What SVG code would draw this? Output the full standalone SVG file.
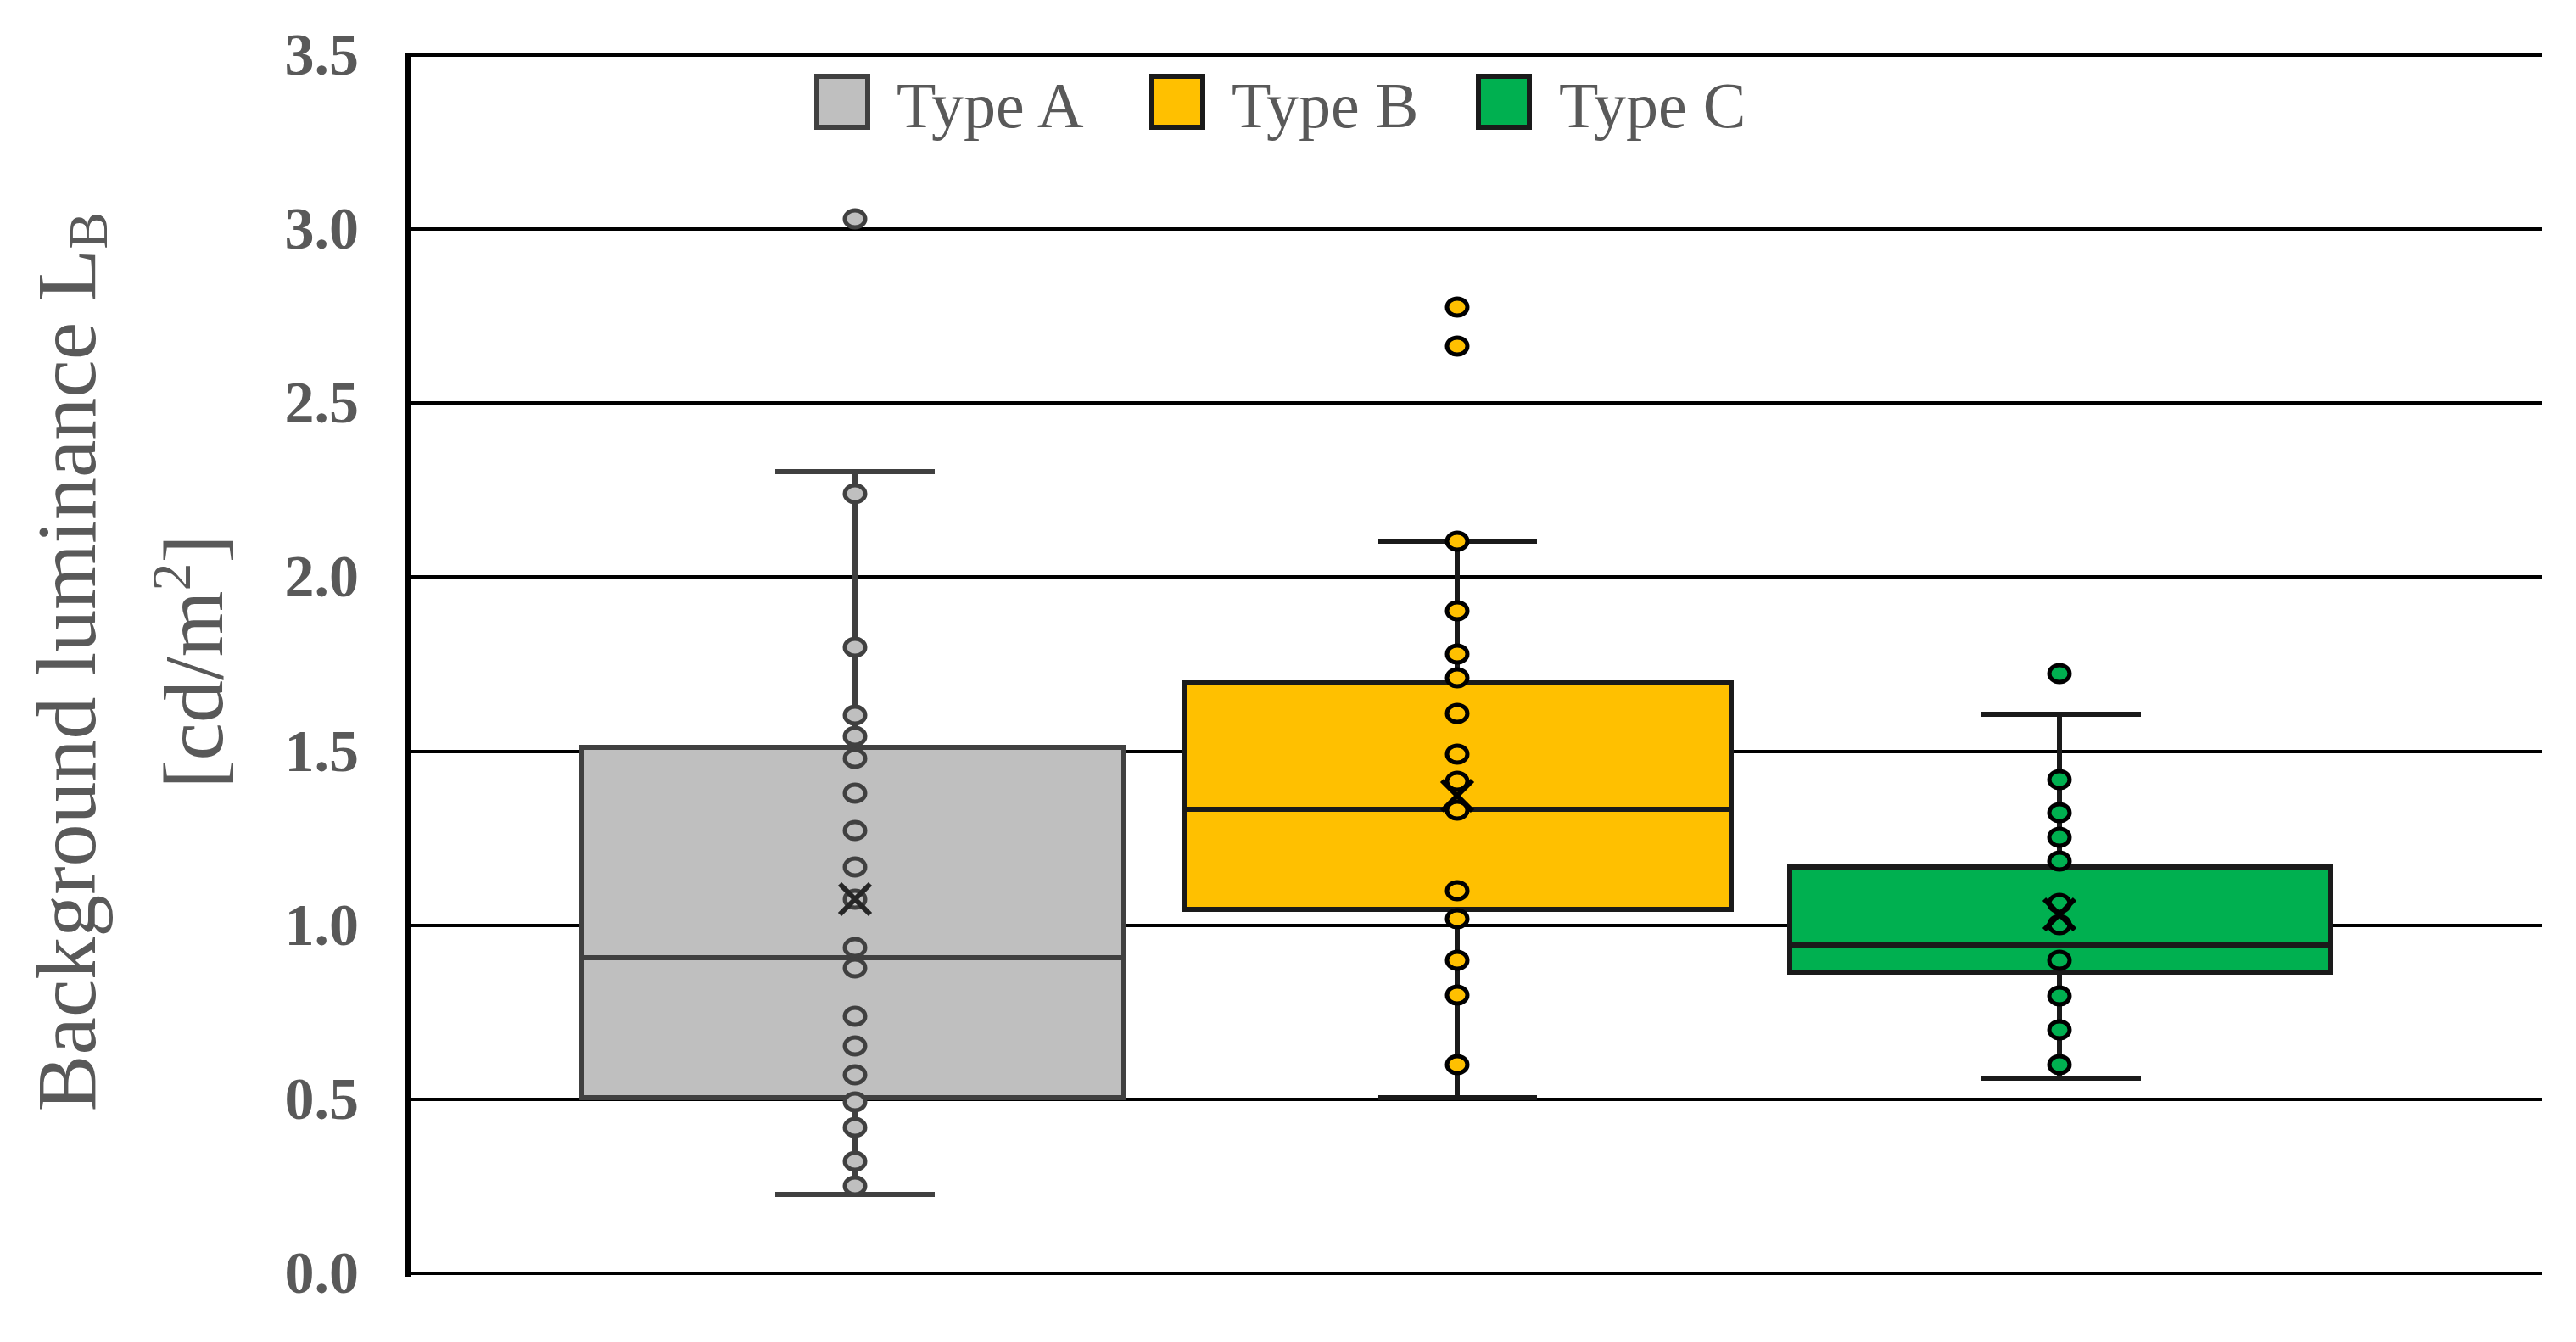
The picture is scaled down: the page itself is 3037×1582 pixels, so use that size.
<svg xmlns="http://www.w3.org/2000/svg" width="3037" height="1582" viewBox="0 0 3037 1582">
<style>
.grid{stroke:#000;stroke-width:4}
.tick{font-family:"Liberation Serif",serif;font-weight:bold;font-size:70px;fill:#595959;text-anchor:end}
.leg{font-family:"Liberation Serif",serif;font-size:76px;fill:#595959}
.ax{font-family:"Liberation Serif",serif;font-size:100px;fill:#595959;text-anchor:middle}
.a{fill:#BFBFBF;stroke:#404040;stroke-width:6}
.b{fill:#FFC000;stroke:#1a1a1a;stroke-width:6}
.c{fill:#00B050;stroke:#1a1a1a;stroke-width:6}
.wa{stroke:#404040;stroke-width:6;fill:none}
.wb{stroke:#1a1a1a;stroke-width:6;fill:none}
.pa{fill:#BFBFBF;stroke:#404040;stroke-width:5}
.pb{fill:#FFC000;stroke:#000;stroke-width:5}
.pc{fill:#00B050;stroke:#000;stroke-width:5}
</style>
<rect width="3037" height="1582" fill="#fff"/>
<g id="grid">
<line class="grid" x1="479" y1="65" x2="2997" y2="65"/>
<line class="grid" x1="479" y1="270" x2="2997" y2="270"/>
<line class="grid" x1="479" y1="475" x2="2997" y2="475"/>
<line class="grid" x1="479" y1="680" x2="2997" y2="680"/>
<line class="grid" x1="479" y1="886" x2="2997" y2="886"/>
<line class="grid" x1="479" y1="1091" x2="2997" y2="1091"/>
<line class="grid" x1="479" y1="1296" x2="2997" y2="1296"/>
<line class="grid" x1="479" y1="1501" x2="2997" y2="1501"/>
<line x1="481" y1="63" x2="481" y2="1505" stroke="#000" stroke-width="8"/>
</g>
<g id="ticks">
<text class="tick" x="423" y="88">3.5</text>
<text class="tick" x="423" y="293">3.0</text>
<text class="tick" x="423" y="498">2.5</text>
<text class="tick" x="423" y="703">2.0</text>
<text class="tick" x="423" y="909">1.5</text>
<text class="tick" x="423" y="1114">1.0</text>
<text class="tick" x="423" y="1319">0.5</text>
<text class="tick" x="423" y="1524">0.0</text>
</g>
<g id="ylabel">
<text class="ax" transform="translate(112,780) rotate(-90)">Background luminance L<tspan font-size="66" dy="14">B</tspan></text>
<text class="ax" transform="translate(262,780) rotate(-90)">[cd/m<tspan font-size="66" dy="-38">2</tspan><tspan dy="38">]</tspan></text>
</g>
<g id="legend">
<rect class="a" x="963" y="90" width="60" height="60"/>
<text class="leg" x="1057" y="150">Type A</text>
<rect class="b" x="1358" y="90" width="60" height="60"/>
<text class="leg" x="1452" y="150">Type B</text>
<rect class="c" x="1743" y="90" width="60" height="60"/>
<text class="leg" x="1838" y="150">Type C</text>
</g>
<g id="typeA">
<line class="wa" x1="1008" y1="556" x2="1008" y2="1408"/>
<line class="wa" x1="914" y1="556" x2="1102" y2="556"/>
<line class="wa" x1="914" y1="1408" x2="1102" y2="1408"/>
<rect class="a" x="686" y="881" width="639" height="413"/>
<line class="wa" x1="686" y1="1129" x2="1325" y2="1129"/>
<g class="pa">
<ellipse cx="1008" cy="258" rx="12" ry="10"/><ellipse cx="1008" cy="582" rx="12" ry="10"/>
<ellipse cx="1008" cy="763" rx="12" ry="10"/><ellipse cx="1008" cy="843" rx="12" ry="10"/>
<ellipse cx="1008" cy="868" rx="12" ry="10"/><ellipse cx="1008" cy="894" rx="12" ry="10"/>
<ellipse cx="1008" cy="935" rx="12" ry="10"/><ellipse cx="1008" cy="979" rx="12" ry="10"/>
<ellipse cx="1008" cy="1022" rx="12" ry="10"/><ellipse cx="1008" cy="1060" rx="12" ry="10"/>
<ellipse cx="1008" cy="1117" rx="12" ry="10"/><ellipse cx="1008" cy="1141" rx="12" ry="10"/>
<ellipse cx="1008" cy="1198" rx="12" ry="10"/><ellipse cx="1008" cy="1233" rx="12" ry="10"/>
<ellipse cx="1008" cy="1267" rx="12" ry="10"/><ellipse cx="1008" cy="1299" rx="12" ry="10"/>
<ellipse cx="1008" cy="1329" rx="12" ry="10"/><ellipse cx="1008" cy="1369" rx="12" ry="10"/>
<ellipse cx="1008" cy="1398" rx="12" ry="10"/>
</g>
<path d="M990 1042 L1026 1078 M1026 1042 L990 1078" stroke="#262626" stroke-width="6"/>
</g>
<g id="typeB">
<line class="wb" x1="1718" y1="638" x2="1718" y2="1294"/>
<line class="wb" x1="1625" y1="638" x2="1812" y2="638"/>
<line class="wb" x1="1625" y1="1294" x2="1812" y2="1294"/>
<rect class="b" x="1397" y="805" width="644" height="267"/>
<line class="wb" x1="1397" y1="954" x2="2041" y2="954"/>
<g class="pb">
<ellipse cx="1718" cy="362" rx="12" ry="10"/><ellipse cx="1718" cy="408" rx="12" ry="10"/>
<ellipse cx="1718" cy="638" rx="12" ry="10"/><ellipse cx="1718" cy="720" rx="12" ry="10"/>
<ellipse cx="1718" cy="771" rx="12" ry="10"/><ellipse cx="1718" cy="799" rx="12" ry="10"/>
<ellipse cx="1718" cy="841" rx="12" ry="10"/><ellipse cx="1718" cy="889" rx="12" ry="10"/>
<ellipse cx="1718" cy="921" rx="12" ry="10"/><ellipse cx="1718" cy="955" rx="12" ry="10"/>
<ellipse cx="1718" cy="1050" rx="12" ry="10"/><ellipse cx="1718" cy="1083" rx="12" ry="10"/>
<ellipse cx="1718" cy="1132" rx="12" ry="10"/><ellipse cx="1718" cy="1173" rx="12" ry="10"/>
<ellipse cx="1718" cy="1255" rx="12" ry="10"/>
</g>
<path d="M1700 920 L1736 956 M1736 920 L1700 956" stroke="#000" stroke-width="6"/>
</g>
<g id="typeC">
<line class="wb" x1="2428" y1="842" x2="2428" y2="1271"/>
<line class="wb" x1="2335" y1="842" x2="2524" y2="842"/>
<line class="wb" x1="2335" y1="1271" x2="2524" y2="1271"/>
<rect class="c" x="2110" y="1022" width="638" height="124"/>
<line class="wb" x1="2110" y1="1114" x2="2748" y2="1114"/>
<g class="pc">
<ellipse cx="2428" cy="794" rx="12" ry="10"/><ellipse cx="2428" cy="919" rx="12" ry="10"/>
<ellipse cx="2428" cy="958" rx="12" ry="10"/><ellipse cx="2428" cy="987" rx="12" ry="10"/>
<ellipse cx="2428" cy="1015" rx="12" ry="10"/><ellipse cx="2428" cy="1065" rx="12" ry="10"/>
<ellipse cx="2428" cy="1090" rx="12" ry="10"/><ellipse cx="2428" cy="1132" rx="12" ry="10"/>
<ellipse cx="2428" cy="1174" rx="12" ry="10"/><ellipse cx="2428" cy="1214" rx="12" ry="10"/>
<ellipse cx="2428" cy="1255" rx="12" ry="10"/>
</g>
<path d="M2410 1060 L2446 1096 M2446 1060 L2410 1096" stroke="#000" stroke-width="6"/>
</g>
</svg>
